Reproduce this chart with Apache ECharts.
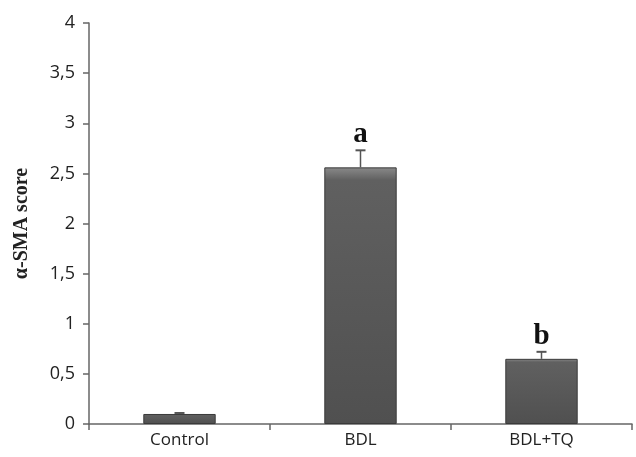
<!DOCTYPE html>
<html><head><meta charset="utf-8">
<script src="https://cdn.jsdelivr.net/npm/echarts@6/dist/echarts.min.js"></script>
<style>html,body{margin:0;padding:0;background:#fff}#c{width:636px;height:457px}</style>
</head><body><div id="c"></div>
<script>
const categories = ['Control', 'BDL', 'BDL+TQ'];
const means = [0.1, 2.56, 0.65];
const errors = [0.01, 0.17, 0.07];
const letters = ['', 'a', 'b'];
const yTicks = [0, 0.5, 1, 1.5, 2, 2.5, 3, 3.5, 4];

const chart = echarts.init(document.getElementById('c'));
const barColor = new echarts.graphic.LinearGradient(0, 0, 0, 1, [
  {offset: 0, color: '#8a8a8a'}, {offset: 0.05, color: '#606060'}, {offset: 1, color: '#505050'}
]);
chart.setOption({
  animation: false,
  grid: {left: 89, right: 4, top: 23, bottom: 33},
  xAxis: {
    type: 'category', data: categories,
    axisLine: {lineStyle: {color: '#666', width: 1.5}},
    axisTick: {show: true, length: 6, lineStyle: {color: '#666', width: 1.5}},
    axisLabel: {color: '#222', fontFamily: 'Open Sans', fontSize: 17, margin: 8}
  },
  yAxis: {
    type: 'value', min: 0, max: 4, interval: 0.5,
    name: 'α-SMA score', nameLocation: 'middle', nameGap: 57,
    nameTextStyle: {fontFamily: 'Liberation Serif', fontWeight: 'bold', fontSize: 20, color: '#222'},
    axisLine: {show: true, lineStyle: {color: '#666', width: 1.5}},
    axisTick: {show: true, inside: false, length: 6, lineStyle: {color: '#666', width: 1.5}},
    splitLine: {show: false},
    axisLabel: {color: '#222', fontFamily: 'Open Sans', fontSize: 18, margin: 14,
      formatter: v => String(v).replace('.', ',')}
  },
  series: [
    {
      type: 'bar', data: means, barWidth: '40%',
      itemStyle: {color: barColor, borderColor: '#3a3a3a', borderWidth: 1}
    },
    {
      type: 'custom',
      data: means.map((m, i) => [i, m, m + errors[i], letters[i]]),
      renderItem: function (params, api) {
        const x = api.coord([api.value(0), api.value(1)])[0];
        const y0 = api.coord([api.value(0), api.value(1)])[1];
        const y1 = api.coord([api.value(0), api.value(2)])[1];
        const children = [
          {type: 'line', shape: {x1: x, y1: y0, x2: x, y2: y1}, style: {stroke: '#555', lineWidth: 1.5}},
          {type: 'line', shape: {x1: x - 5, y1: y1, x2: x + 5, y2: y1}, style: {stroke: '#555', lineWidth: 2}}
        ];
        const lab = api.value(3);
        if (lab) {
          children.push({type: 'text', x: x, y: y1 - 1, style: {text: lab, fill: '#111',
            font: 'bold 29px "Liberation Serif", serif',
            align: 'center', verticalAlign: 'bottom'}});
        }
        return {type: 'group', children: children};
      },
      z: 5
    }
  ]
});
</script></body></html>
